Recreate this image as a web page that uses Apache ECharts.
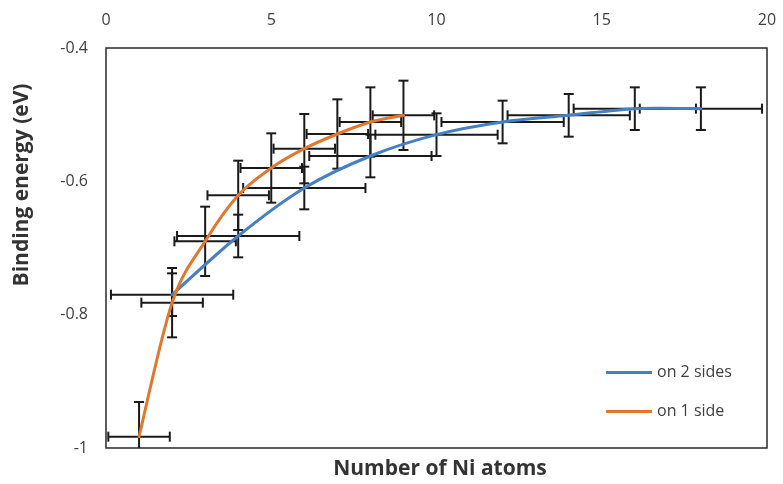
<!DOCTYPE html>
<html>
<head>
<meta charset="utf-8">
<script src="https://cdn.jsdelivr.net/npm/echarts@6/dist/echarts.min.js"></script>
<style>
html,body{margin:0;padding:0;background:#fff;}
#chart{width:783px;height:484px;}
</style>
</head>
<body>
<div id="chart"></div>
<script>
// Data
const seriesNames = ['on 2 sides', 'on 1 side'];
const blueX = [2, 4, 6, 8, 10, 12, 14, 16, 18];
const blueY = [-0.770, -0.682, -0.610, -0.562, -0.530, -0.511, -0.501, -0.491, -0.491];
const blueXErr = [1.85, 1.85, 1.85, 1.85, 1.85, 1.85, 1.85, 1.85, 1.85];
const blueYErr = [0.032, 0.032, 0.032, 0.032, 0.032, 0.032, 0.032, 0.032, 0.032];
const orangeX = [1, 2, 3, 4, 5, 6, 7, 8, 9];
const orangeY = [-0.983, -0.782, -0.690, -0.621, -0.580, -0.551, -0.529, -0.511, -0.501];
const orangeXErr = [0.93, 0.93, 0.93, 0.93, 0.93, 0.93, 0.93, 0.93, 0.93];
const orangeYErr = [0.052, 0.052, 0.052, 0.052, 0.052, 0.052, 0.052, 0.052, 0.052];
const xTickLabels = ['0', '5', '10', '15', '20'];
const yTickLabels = ['-1', '-0.8', '-0.6', '-0.4'];
const xTitle = 'Number of Ni atoms';
const yTitle = 'Binding energy (eV)';

const blueColor = '#4580c2';
const orangeColor = '#e2772e';

function lineData(xs, ys) { return xs.map((x, i) => [x, ys[i]]); }
function errData(xs, ys, ex, ey) { return xs.map((x, i) => [x, ys[i], ex[i], ey[i]]); }

function renderErr(params, api) {
  const x = api.value(0), y = api.value(1), ex = api.value(2), ey = api.value(3);
  const cs = params.coordSys;
  const x0 = cs.x, x1 = cs.x + cs.width, y0 = cs.y, y1 = cs.y + cs.height;
  const c = api.coord([x, y]);
  const l = api.coord([x - ex, y]), r = api.coord([x + ex, y]);
  const t = api.coord([x, y + ey]), b = api.coord([x, y - ey]);
  const cap = 5;
  const style = { stroke: '#1a1a1a', lineWidth: 2 };
  const kids = [];
  const lx = Math.max(x0, l[0]), rx = Math.min(x1, r[0]);
  const ty = Math.max(y0, t[1]), by = Math.min(y1, b[1]);
  kids.push({ type: 'line', shape: { x1: lx, y1: c[1], x2: rx, y2: c[1] }, style });
  if (l[0] >= x0) kids.push({ type: 'line', shape: { x1: l[0], y1: c[1] - cap, x2: l[0], y2: c[1] + cap }, style });
  if (r[0] <= x1) kids.push({ type: 'line', shape: { x1: r[0], y1: c[1] - cap, x2: r[0], y2: c[1] + cap }, style });
  kids.push({ type: 'line', shape: { x1: c[0], y1: ty, x2: c[0], y2: by }, style });
  if (t[1] >= y0) kids.push({ type: 'line', shape: { x1: c[0] - cap, y1: t[1], x2: c[0] + cap, y2: t[1] }, style });
  if (b[1] <= y1) kids.push({ type: 'line', shape: { x1: c[0] - cap, y1: b[1], x2: c[0] + cap, y2: b[1] }, style });
  return { type: 'group', children: kids };
}

// Smoothed line (Catmull-Rom style Bezier, like a spreadsheet "smoothed line"),
// one segment per data item, positions from the axes via api.coord
function makeCurve(color) {
  return function (params, api) {
    const i = params.dataIndexInside, n = params.dataInsideLength;
    if (i >= n - 1) return null;
    const P = k => { k = Math.max(0, Math.min(n - 1, k)); return api.coord([api.value(0, k), api.value(1, k)]); };
    const p0 = P(i - 1), p1 = P(i), p2 = P(i + 1), p3 = P(i + 2);
    const t = 1 / 6;
    return {
      type: 'bezierCurve',
      shape: {
        x1: p1[0], y1: p1[1], x2: p2[0], y2: p2[1],
        cpx1: p1[0] + (p2[0] - p0[0]) * t, cpy1: p1[1] + (p2[1] - p0[1]) * t,
        cpx2: p2[0] - (p3[0] - p1[0]) * t, cpy2: p2[1] - (p3[1] - p1[1]) * t
      },
      style: { stroke: color, lineWidth: 3, fill: null, lineCap: 'round' }
    };
  };
}

const chart = echarts.init(document.getElementById('chart'), null, { renderer: 'canvas' });
const labelColor = '#404040';
const fontFamily = '"Open Sans", Lato, sans-serif';

chart.setOption({
  animation: false,
  backgroundColor: '#fff',
  textStyle: { fontFamily },
  grid: { left: 106, top: 48, right: 16, bottom: 36, show: true, borderColor: '#2a2a2a', borderWidth: 1.5, backgroundColor: 'transparent' },
  xAxis: {
    type: 'value', position: 'top', min: 0, max: 20, interval: 5,
    axisLine: { show: false }, axisTick: { show: false }, splitLine: { show: false },
    axisLabel: { color: labelColor, fontSize: 16, margin: 20, fontFamily,
      formatter: v => xTickLabels[Math.round(v / 5)] }
  },
  yAxis: {
    type: 'value', min: -1, max: -0.4, interval: 0.2,
    axisLine: { show: false }, axisTick: { show: false }, splitLine: { show: false },
    axisLabel: { color: labelColor, fontSize: 16, margin: 18, fontFamily,
      formatter: v => yTickLabels[Math.round((v + 1) / 0.2)] }
  },
  legend: {
    data: seriesNames, orient: 'vertical', left: 601, top: 359,
    itemWidth: 46, itemHeight: 3, itemGap: 22, icon: 'rect',
    textStyle: { color: labelColor, fontSize: 16, lineHeight: 17, fontFamily }
  },
  graphic: [
    { type: 'text', x: 440, y: 469, style: { text: xTitle, align: 'center', verticalAlign: 'middle', font: 'bold 21px ' + fontFamily, fill: '#333' } },
    { type: 'text', rotation: Math.PI / 2, x: 22, y: 185, style: { text: yTitle, align: 'center', verticalAlign: 'middle', font: 'bold 21px ' + fontFamily, fill: '#333' } }
  ],
  series: [
    { type: 'custom', name: 'err2', renderItem: renderErr, data: errData(blueX, blueY, blueXErr, blueYErr), encode: { x: 0, y: 1 }, z: 2, silent: true },
    { type: 'custom', name: 'err1', renderItem: renderErr, data: errData(orangeX, orangeY, orangeXErr, orangeYErr), encode: { x: 0, y: 1 }, z: 2, silent: true },
    { type: 'custom', name: seriesNames[0], renderItem: makeCurve(blueColor), data: lineData(blueX, blueY), encode: { x: 0, y: 1 },
      itemStyle: { color: blueColor }, z: 3, silent: true },
    { type: 'custom', name: seriesNames[1], renderItem: makeCurve(orangeColor), data: lineData(orangeX, orangeY), encode: { x: 0, y: 1 },
      itemStyle: { color: orangeColor }, z: 4, silent: true }
  ]
});
</script>
</body>
</html>
